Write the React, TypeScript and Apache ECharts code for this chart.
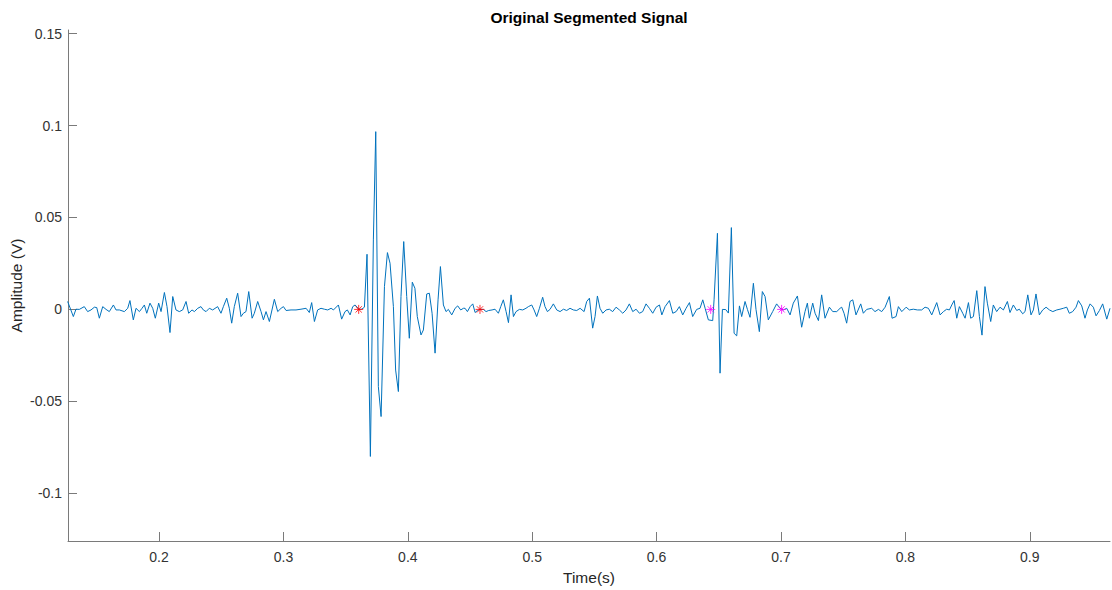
import React, { useEffect, useRef } from "react";
import * as echarts from "echarts";

// Time (s) of each vertex of the recorded signal
const times: number[] = [
  0.1265, 0.1311, 0.1332, 0.1359, 0.1399, 0.1426, 0.1453, 0.1480, 0.1499, 0.1520,
  0.1547, 0.1574, 0.1600, 0.1633, 0.1654, 0.1681, 0.1721, 0.1748, 0.1766, 0.1793,
  0.1815, 0.1842, 0.1863, 0.1882, 0.1901, 0.1927, 0.1949, 0.1970, 0.1997, 0.2016,
  0.2043, 0.2064, 0.2088, 0.2110, 0.2136, 0.2163, 0.2190, 0.2217, 0.2238, 0.2265,
  0.2284, 0.2311, 0.2337, 0.2356, 0.2378, 0.2404, 0.2431, 0.2471, 0.2498, 0.2517,
  0.2544, 0.2565, 0.2584, 0.2605, 0.2632, 0.2659, 0.2678, 0.2699, 0.2721, 0.2748,
  0.2766, 0.2793, 0.2820, 0.2839, 0.2860, 0.2887, 0.2927, 0.2954, 0.2981, 0.3000,
  0.3021, 0.3061, 0.3101, 0.3141, 0.3182, 0.3208, 0.3227, 0.3249, 0.3275, 0.3302,
  0.3329, 0.3356, 0.3383,
  0.3402, 0.3442, 0.3468, 0.3495, 0.3514, 0.3536, 0.3557, 0.3576, 0.3608, 0.3630,
  0.3651, 0.3672, 0.3699, 0.3723, 0.3742, 0.3763, 0.3785, 0.3812, 0.3836, 0.3857,
  0.3884, 0.3902, 0.3924, 0.3945, 0.3967, 0.3991, 0.4012, 0.4036, 0.4057, 0.4076,
  0.4106, 0.4125, 0.4152, 0.4173, 0.4195, 0.4219, 0.4243, 0.4262, 0.4286, 0.4307,
  0.4326, 0.4353, 0.4380, 0.4401, 0.4425, 0.4447,
  0.4460, 0.4479, 0.4501, 0.4522, 0.4541, 0.4560, 0.4581, 0.4608, 0.4629, 0.4650,
  0.4677, 0.4701, 0.4728, 0.4747, 0.4768, 0.4790, 0.4809, 0.4830, 0.4849, 0.4870,
  0.4897, 0.4924, 0.4950, 0.4969, 0.4996, 0.5015, 0.5036, 0.5058, 0.5084, 0.5103,
  0.5122, 0.5143, 0.5170, 0.5197, 0.5224, 0.5251, 0.5277, 0.5304, 0.5331, 0.5358,
  0.5385, 0.5417, 0.5438, 0.5460, 0.5486, 0.5505, 0.5524, 0.5545, 0.5567, 0.5594,
  0.5620, 0.5647, 0.5674, 0.5701, 0.5728, 0.5754, 0.5781, 0.5808, 0.5835, 0.5862,
  0.5888, 0.5915, 0.5942, 0.5969, 0.5996, 0.6023, 0.6042, 0.6068, 0.6103, 0.6130,
  0.6157, 0.6183, 0.6210, 0.6237, 0.6264,
  0.6290, 0.6322, 0.6349, 0.6371, 0.6390, 0.6416, 0.6451, 0.6462, 0.6489, 0.6510,
  0.6529, 0.6556, 0.6577, 0.6601, 0.6623, 0.6644, 0.6666, 0.6684, 0.6711, 0.6730,
  0.6751, 0.6778, 0.6799, 0.6826, 0.6850, 0.6872, 0.6898, 0.6933, 0.6965, 0.6992,
  0.7019, 0.7046, 0.7073, 0.7099, 0.7132, 0.7166, 0.7193, 0.7212, 0.7228, 0.7255,
  0.7274, 0.7301, 0.7327, 0.7354, 0.7389, 0.7416, 0.7448, 0.7475,
  0.7488, 0.7507, 0.7528, 0.7555, 0.7577, 0.7603, 0.7641, 0.7662, 0.7689, 0.7729,
  0.7756, 0.7783, 0.7810, 0.7837, 0.7871, 0.7893, 0.7925, 0.7944, 0.7971, 0.8006,
  0.8032, 0.8064, 0.8097, 0.8131, 0.8158, 0.8185, 0.8212, 0.8252, 0.8279, 0.8306,
  0.8332, 0.8354, 0.8373, 0.8392, 0.8413, 0.8434, 0.8461, 0.8480, 0.8507, 0.8525,
  0.8547, 0.8574, 0.8595, 0.8616, 0.8640, 0.8659, 0.8686, 0.8707, 0.8734, 0.8761,
  0.8788, 0.8820, 0.8841, 0.8868, 0.8895, 0.8916, 0.8943, 0.8962, 0.8984, 0.9010,
  0.9029, 0.9050, 0.9077, 0.9104, 0.9131, 0.9158, 0.9185, 0.9217, 0.9243, 0.9270,
  0.9297, 0.9318, 0.9345, 0.9372, 0.9391, 0.9418, 0.9444, 0.9463, 0.9485, 0.9511,
  0.9533, 0.9560, 0.9586, 0.9619, 0.9645,
];

// Amplitude (V) at each vertex
const amplitudes: number[] = [
  0.0043, -0.0039, 0.0001, 0.0000, 0.0015, -0.0012, -0.0003, 0.0012, 0.0010, -0.0048,
  0.0015, 0.0000, -0.0012, 0.0024, -0.0003, -0.0003, -0.0012, 0.0006, 0.0048, -0.0057,
  0.0006, -0.0012, 0.0006, 0.0024, -0.0021, 0.0034, 0.0006, -0.0048, 0.0034, -0.0012,
  0.0092, 0.0015, -0.0126, 0.0070, -0.0003, -0.0012, -0.0003, 0.0043, -0.0021, -0.0003,
  -0.0012, 0.0006, 0.0015, -0.0003, -0.0012, 0.0006, -0.0003, 0.0015, -0.0021, 0.0015,
  0.0061, 0.0006, -0.0075, 0.0015, 0.0088, -0.0039, -0.0021, -0.0012, 0.0097, -0.0048,
  -0.0021, 0.0043, -0.0012, -0.0057, -0.0012, -0.0066, 0.0055, -0.0012, 0.0006, 0.0015,
  -0.0006, -0.0003, -0.0003, 0.0001, 0.0006, -0.0017, 0.0037, -0.0066, -0.0003, 0.0006,
  0.0001, -0.0003, 0.0006,
  -0.0003, 0.0024, -0.0053, -0.0012, -0.0003, -0.0030, 0.0015, 0.0024, 0.0000, 0.0001,
  0.0012, 0.0300, -0.0800, 0.0378, 0.0967, -0.0420, -0.0583, 0.0124, 0.0309, 0.0251,
  0.0015, -0.0330, -0.0447, 0.0070, 0.0369, 0.0070, -0.0157, 0.0148, 0.0115, -0.0039,
  -0.0139, -0.0112, 0.0084, 0.0088, -0.0021, -0.0238, 0.0052, 0.0233, 0.0024, -0.0012,
  0.0000, -0.0030, 0.0006, 0.0019, -0.0003, 0.0006,
  0.0006, -0.0012, 0.0015, 0.0030, -0.0017, -0.0006, 0.0000, 0.0000, -0.0012, -0.0006,
  -0.0003, 0.0001, -0.0021, 0.0015, 0.0052, -0.0012, -0.0072, 0.0079, -0.0039, -0.0012,
  0.0000, -0.0003, 0.0006, 0.0015, 0.0024, -0.0003, -0.0039, 0.0006, 0.0066, 0.0015,
  -0.0012, 0.0000, 0.0030, -0.0003, -0.0012, 0.0001, -0.0006, 0.0006, -0.0003, -0.0006,
  0.0006, -0.0012, 0.0043, 0.0061, -0.0102, -0.0039, 0.0073, 0.0006, -0.0021, -0.0003,
  0.0001, -0.0012, 0.0012, -0.0003, -0.0021, -0.0003, 0.0030, -0.0012, 0.0001, -0.0021,
  -0.0012, 0.0030, 0.0006, -0.0021, 0.0012, 0.0024, -0.0030, 0.0015, 0.0048, -0.0021,
  -0.0012, 0.0015, -0.0030, 0.0006, 0.0037,
  -0.0039, 0.0000, 0.0006, 0.0052, 0.0006, -0.0057, -0.0061, 0.0052, 0.0414, -0.0347,
  0.0000, -0.0001, -0.0020, 0.0445, -0.0130, -0.0144, 0.0019, -0.0039, 0.0043, 0.0000,
  -0.0043, 0.0142, 0.0000, -0.0121, 0.0097, 0.0070, -0.0057, -0.0012, 0.0030, 0.0006,
  -0.0003, 0.0006, -0.0030, 0.0034, 0.0073, -0.0097, -0.0012, 0.0034, -0.0048, 0.0034,
  -0.0021, -0.0061, 0.0079, -0.0048, 0.0012, -0.0012, -0.0012, 0.0006,
  0.0012, -0.0021, -0.0075, 0.0043, 0.0052, -0.0030, 0.0030, -0.0021, 0.0000, 0.0006,
  -0.0012, 0.0000, -0.0012, 0.0012, 0.0070, -0.0048, -0.0039, 0.0015, -0.0012, 0.0012,
  -0.0003, 0.0001, -0.0003, -0.0003, 0.0012, 0.0006, -0.0030, 0.0037, -0.0030, -0.0012,
  0.0001, -0.0003, 0.0024, 0.0048, -0.0048, 0.0015, -0.0021, -0.0048, 0.0037, -0.0048,
  -0.0039, 0.0102, -0.0039, -0.0140, 0.0124, 0.0034, -0.0066, 0.0024, -0.0012, 0.0012,
  -0.0003, 0.0043, -0.0017, 0.0024, -0.0006, 0.0001, -0.0024, -0.0012, 0.0079, -0.0030,
  -0.0003, 0.0084, -0.0030, -0.0003, 0.0012, -0.0003, -0.0012, -0.0003, 0.0001, 0.0006,
  0.0012, -0.0021, -0.0012, 0.0012, 0.0048, 0.0019, -0.0048, -0.0003, 0.0030, 0.0012,
  -0.0035, -0.0006, 0.0030, -0.0053, 0.0006,
];

// Segment boundary markers
const redMarkerTimes: number[] = [0.3605, 0.458];
const redMarkerValues: number[] = [0, 0];
const magentaMarkerTimes: number[] = [0.6435, 0.7005];
const magentaMarkerValues: number[] = [0, 0];

const xTicks: number[] = [0.2, 0.3, 0.4, 0.5, 0.6, 0.7, 0.8, 0.9];
const yTicks: number[] = [-0.1, -0.05, 0, 0.05, 0.1, 0.15];

const TITLE = "Original Segmented Signal";
const FONT = "'Liberation Sans', Arial, Helvetica, sans-serif";
const STAR =
  "path://M0,5L10,5M5,0L5,10M1.5,1.5L8.5,8.5M8.5,1.5L1.5,8.5";

export default function App() {
  const ref = useRef<HTMLDivElement>(null);

  useEffect(() => {
    if (!ref.current) return;
    const chart = echarts.init(ref.current, undefined, { renderer: "svg" });
    const signal = times.map((t, i) => [t, amplitudes[i]]);
    const red = redMarkerTimes.map((t, i) => [t, redMarkerValues[i]]);
    const magenta = magentaMarkerTimes.map((t, i) => [t, magentaMarkerValues[i]]);

    const axisText = { color: "#333333", fontSize: 14, fontFamily: FONT };
    const axisColor = "#7a7a7a";

    chart.setOption({
      animation: false,
      backgroundColor: "#ffffff",
      graphic: [
        {
          type: "text",
          x: 589,
          y: 17,
          style: {
            text: TITLE,
            fill: "#000000",
            fontFamily: FONT,
            fontSize: 15.5,
            fontWeight: "bold",
            align: "center",
            verticalAlign: "middle",
          },
        },
      ],
      grid: {
        left: 68,
        right: 2,
        top: 30,
        bottom: 49,
        containLabel: false,
        outerBoundsMode: "none",
      },
      xAxis: {
        type: "value",
        min: 0.1268,
        max: 0.9645,
        name: "Time(s)",
        nameLocation: "middle",
        nameGap: 28,
        nameMoveOverlap: false,
        nameTextStyle: { fontFamily: FONT, fontSize: 15.5, color: "#262626" },
        axisLine: { show: true, onZero: false, lineStyle: { color: axisColor, width: 1 } },
        axisTick: {
          show: true,
          inside: true,
          length: 9,
          customValues: xTicks,
          lineStyle: { color: axisColor, width: 1 },
        },
        axisLabel: { ...axisText, margin: 9, customValues: xTicks },
        splitLine: { show: false },
      },
      yAxis: {
        type: "value",
        min: -0.126,
        max: 0.152,
        name: "Amplitude (V)",
        nameLocation: "middle",
        nameGap: 44,
        nameMoveOverlap: false,
        nameRotate: 90,
        nameTextStyle: { fontFamily: FONT, fontSize: 15.5, color: "#262626" },
        axisLine: { show: true, onZero: false, lineStyle: { color: axisColor, width: 1 } },
        axisTick: {
          show: true,
          inside: true,
          length: 9,
          customValues: yTicks,
          lineStyle: { color: axisColor, width: 1 },
        },
        axisLabel: { ...axisText, margin: 6, customValues: yTicks },
        splitLine: { show: false },
      },
      series: [
        {
          type: "line",
          data: signal,
          showSymbol: false,
          symbol: "none",
          lineStyle: { color: "#0072BD", width: 1 },
          clip: true,
          z: 2,
        },
        {
          type: "scatter",
          data: red,
          symbol: STAR,
          symbolSize: 9,
          itemStyle: { color: "rgba(0,0,0,0)", borderColor: "#ff0000", borderWidth: 1 },
          z: 3,
        },
        {
          type: "scatter",
          data: magenta,
          symbol: STAR,
          symbolSize: 9,
          itemStyle: { color: "rgba(0,0,0,0)", borderColor: "#ff00ff", borderWidth: 1 },
          z: 3,
        },
      ],
    });

    return () => {
      chart.dispose();
    };
  }, []);

  return (
    <div
      ref={ref}
      style={{ position: "fixed", left: 0, top: 0, width: 1112, height: 590, background: "#fff" }}
    />
  );
}
